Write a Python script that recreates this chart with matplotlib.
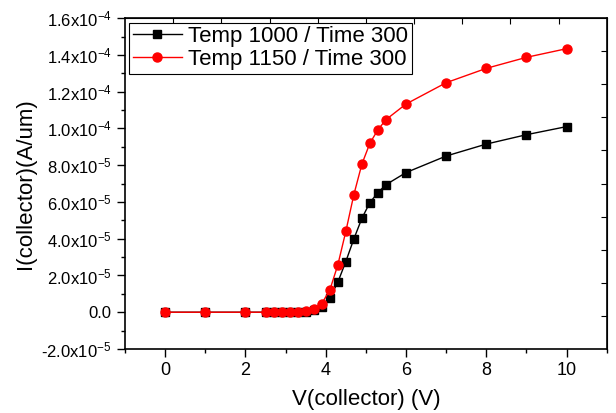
#!/usr/bin/env python3

import numpy as np
import matplotlib
matplotlib.use("Agg")
import matplotlib.pyplot as plt
from matplotlib.ticker import FuncFormatter, MultipleLocator

plt.rcParams['font.family'] = ['Liberation Sans', 'DejaVu Sans']
plt.rcParams['mathtext.default'] = 'regular'

v_collector = [0, 1, 2, 2.5, 2.7, 2.9, 3.1, 3.3, 3.5, 3.7, 3.9, 4.1, 4.3, 4.5,
               4.7, 4.9, 5.1, 5.3, 5.5, 6, 7, 8, 9, 10]
i_1000 = [0, 0, 0, 0, 0, 0, 0, 0.1e-6, 0.3e-6, 1.2e-6, 2.9e-6, 7.8e-6, 1.63e-5,
          2.76e-5, 3.99e-5, 5.11e-5, 5.97e-5, 6.51e-5, 6.94e-5, 7.6e-5, 8.5e-5,
          9.15e-5, 9.66e-5, 1.01e-4]
i_1150 = [0, 0, 0, 0, 0, 0, 0, 0.2e-6, 0.5e-6, 1.6e-6, 4.7e-6, 1.2e-5, 2.57e-5,
          4.4e-5, 6.4e-5, 8.06e-5, 9.2e-5, 9.93e-5, 1.048e-4, 1.133e-4, 1.249e-4,
          1.327e-4, 1.387e-4, 1.434e-4]
labels = ["Temp 1000 / Time 300", "Temp 1150 / Time 300"]


def sci_fmt(val, pos):
    if abs(val) < 1e-12:
        return "0.0"
    exp = int(np.floor(np.log10(abs(val)) + 1e-9))
    mant = val / 10**exp
    return f"{mant:.1f}x10$^{{{exp}}}$"


fig = plt.figure(figsize=(6.16, 4.13), dpi=100)
ax = fig.add_axes([0.203, 0.155, 0.782, 0.801])

ax.plot(v_collector, i_1000, '-s', color='black', lw=1, ms=5.5, label=labels[0])
ax.plot(v_collector, i_1150, '-o', color='red', lw=1, ms=6.5, label=labels[1])

ax.set_xlim(-1, 11)
ax.set_ylim(-2e-5, 1.6e-4)
ax.xaxis.set_major_locator(MultipleLocator(2))
ax.xaxis.set_minor_locator(MultipleLocator(1))
ax.yaxis.set_major_locator(MultipleLocator(2e-5))
ax.yaxis.set_minor_locator(MultipleLocator(1e-5))
ax.yaxis.set_major_formatter(FuncFormatter(sci_fmt))
ax.tick_params(which='major', direction='out', length=6, width=1)
ax.tick_params(which='minor', direction='out', length=3, width=1)
ax.tick_params(axis='x', labelsize=13)
ax.tick_params(axis='y', labelsize=12)
ax.tick_params(top=False, right=False)

# mirrored top / right axes with their own equal divisions
top = ax.secondary_xaxis('top')
top.set_xticks([-1 + 1.2 * k for k in range(1, 10)])
top.tick_params(direction='in', length=4, labeltop=False)
right = ax.secondary_yaxis('right')
right.set_yticks([-2e-5 + 1.8e-5 * k for k in range(1, 10)])
right.tick_params(direction='in', length=4, labelright=False)

for s in ax.spines.values():
    s.set_linewidth(1.2)

ax.set_xlabel("V(collector) (V)", fontsize=16, labelpad=7)
ax.set_ylabel("I(collector)(A/um)", fontsize=16, labelpad=4)

leg = ax.legend(loc='upper left', fontsize=16, handlelength=2.2, handletextpad=0.3,
                borderpad=0.15, labelspacing=0.1, borderaxespad=0.2,
                fancybox=False, framealpha=1, edgecolor='black')
leg.get_frame().set_linewidth(0.8)

fig.savefig("out.png", dpi=100)
